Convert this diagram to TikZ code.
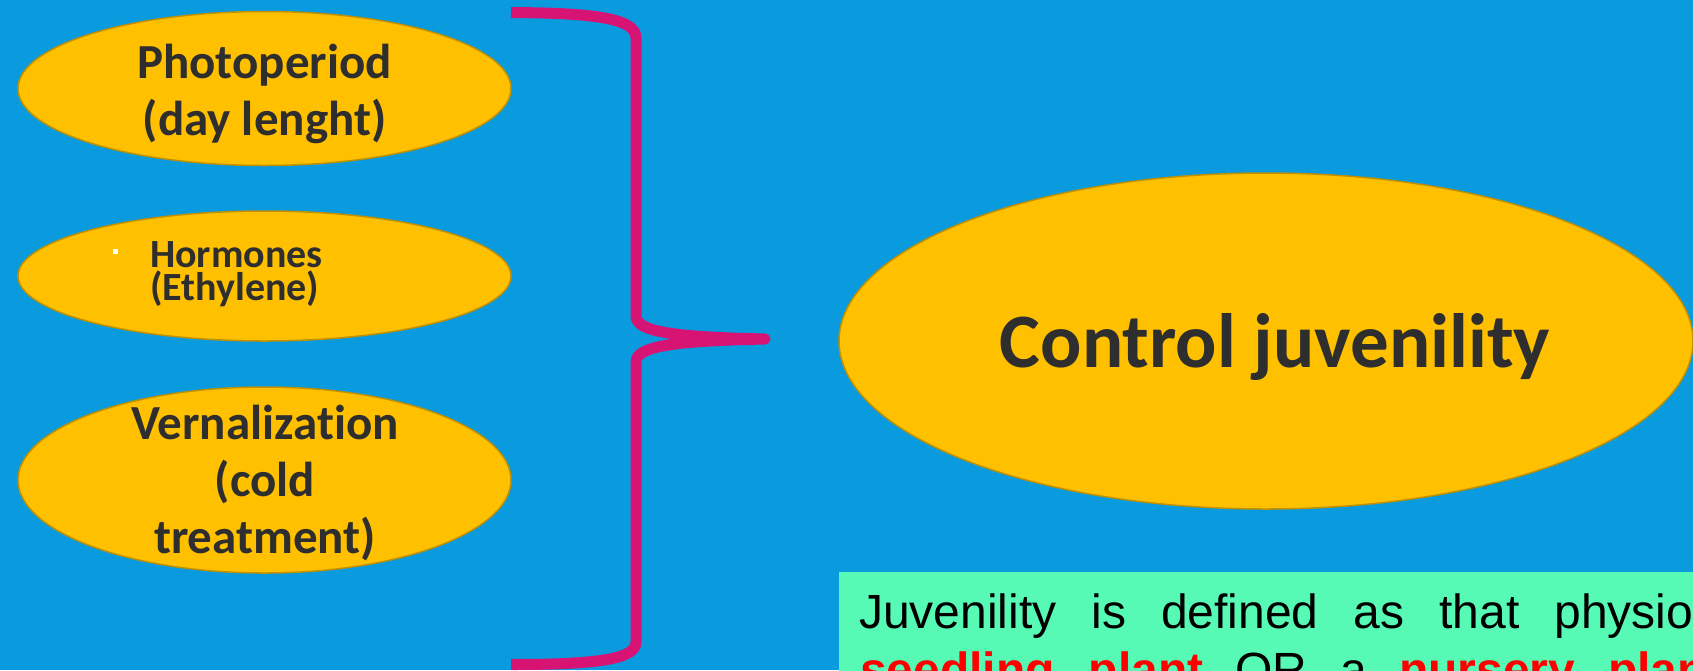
\documentclass[tikz,border=0pt]{standalone}
\usepackage{fontspec}
\setmainfont{Liberation Sans}
\newfontfamily\carl[Ligatures=NoCommon]{Carlito}
\usetikzlibrary{shapes.geometric}
\definecolor{bg}{HTML}{0A9ADE}
\definecolor{oval}{HTML}{FFC000}
\definecolor{ovaledge}{HTML}{BF9000}
\definecolor{bracecol}{HTML}{D71374}
\definecolor{note}{HTML}{57FAB5}
\definecolor{ink}{HTML}{2E2E2E}
\definecolor{hot}{HTML}{FF0000}
\begin{document}
\begin{tikzpicture}[x=1pt,y=-1pt,
  oval/.style={ellipse, draw=ovaledge, line width=1.5pt, fill=oval, inner sep=0pt},
  biglbl/.style={font=\carl\bfseries\fontsize{49}{57}\selectfont, text=ink, anchor=base, inner sep=0pt},
  smalllbl/.style={font=\carl\bfseries\fontsize{40}{33}\selectfont, text=ink, anchor=base west, inner sep=0pt},
  notelbl/.style={font=\fontsize{48}{58}\selectfont, text=black, anchor=base west, inner sep=0pt}]
\useasboundingbox (0,0) rectangle (1693,670);
\clip (0,0) rectangle (1693,670);
\fill[bg] (0,0) rectangle (1693,670);

% left ovals
\node[oval, minimum width=493pt, minimum height=154pt] (photo) at (264.5,88.5) {};
\node[biglbl] (photo1) at (264.5,78) {Photoperiod};
\node[biglbl] (photo2) at (264.5,135) {(day lenght)};

\node[oval, minimum width=493pt, minimum height=130pt] (horm) at (264.5,276) {};
\node[fill=white, minimum size=5.5pt, inner sep=0pt] (hbullet) at (115.5,251.5) {};
\node[smalllbl] (horm1) at (150,267) {Hormones};
\node[smalllbl] (horm2) at (150,300) {(Ethylene)};

\node[oval, minimum width=493pt, minimum height=186pt] (vern) at (264.5,480) {};
\node[biglbl] (vern1) at (265,439) {Vernalization};
\node[biglbl] (vern2) at (265,496) {(cold};
\node[biglbl] (vern3) at (265,553) {treatment)};

% brace
\draw[bracecol, line width=11pt, line cap=butt, line join=round]
  (511,12.5) .. controls (598,13) and (636,19) .. (636,38)
  -- (636,316) .. controls (636,332) and (675,337) .. (765,339)
  .. controls (675,341) and (636,346) .. (636,362)
  -- (636,642) .. controls (636,659) and (598,664.5) .. (511,664.5);

% right oval
\node[oval, minimum width=854pt, minimum height=336pt] (ctrl) at (1266,341) {};
\node[biglbl, font=\carl\bfseries\fontsize{77}{90}\selectfont] (ctrltext) at (1275,367) {Control juvenility};

% note box
\node[fill=note, anchor=north west, minimum width=900pt, minimum height=150pt, inner sep=0pt] (notebox) at (839,572) {};
\node[notelbl] (note1) at (859,628) {Juvenility\hspace{35pt}is\hspace{35pt}defined\hspace{35pt}as\hspace{35pt}that\hspace{35pt}physiological};
\node[notelbl] (note2) at (860,686) {{\bfseries\color{hot}seedling\hspace{34pt}plant}\hspace{32pt}OR\hspace{33pt}a\hspace{32pt}{\bfseries\color{hot}nursery\hspace{33pt}plant}};
\end{tikzpicture}
\end{document}
